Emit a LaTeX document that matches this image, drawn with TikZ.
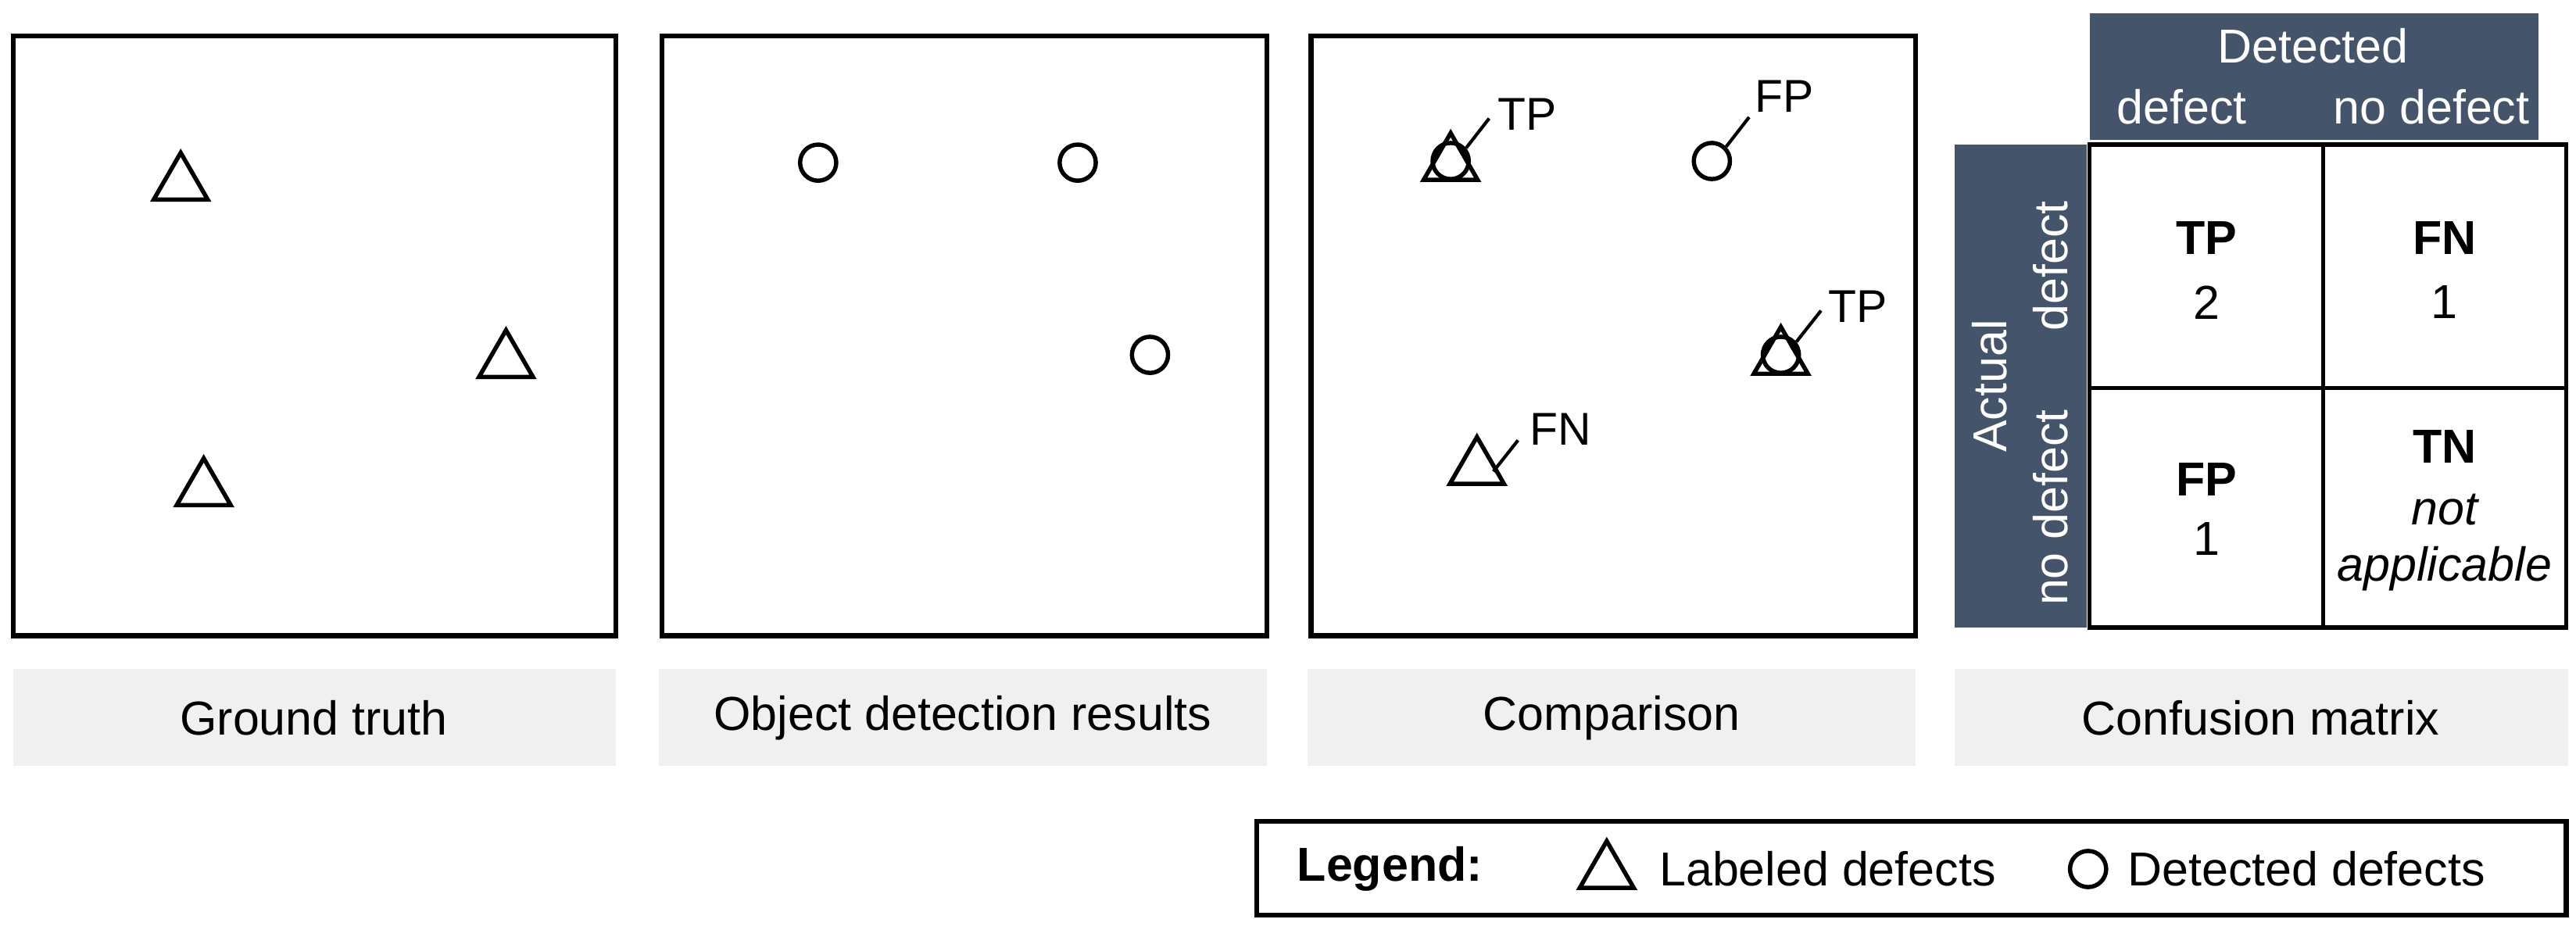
\documentclass[tikz,border=0pt]{standalone}
\usepackage{fontspec}
\setmainfont{Liberation Sans}
\usetikzlibrary{shapes.geometric,calc}
\definecolor{headc}{HTML}{44546A}
\begin{document}
\begin{tikzpicture}[x=0.5pt,y=-0.5pt,
  panel/.style={draw,line width=1.5pt},
  capbar/.style={fill=black!6,draw=none},
  capt/.style={font=\fontsize{14.5}{17}\selectfont},
  tri/.style={draw,line width=1.3pt,regular polygon,regular polygon sides=3,minimum size=19pt,inner sep=0pt},
  circ/.style={draw,line width=1.3pt,circle,minimum size=11pt,inner sep=0pt},
  lbl/.style={font=\fontsize{14}{16}\selectfont,anchor=base west,inner sep=1pt},
  lead/.style={line width=1pt},
  hdr/.style={fill=headc,draw=none},
  ht/.style={text=white,font=\fontsize{14.5}{17}\selectfont},
  ct/.style={font=\fontsize{14.5}{17}\selectfont},
  cell/.style={draw,line width=1.2pt,fill=white}]
\useasboundingbox (0,0) rectangle (1568,570);
% panels
\draw[panel] (8,22) rectangle (375,387);
\draw[panel] (403,22) rectangle (771,387);
\draw[panel] (798,22) rectangle (1166,387);
% captions
\fill[capbar] (8,407) rectangle (375,466);
\fill[capbar] (401,407) rectangle (771,466);
\fill[capbar] (796,407) rectangle (1166,466);
\fill[capbar] (1190,407) rectangle (1563,466);
\node[capt] (c1) at (191,437) {Ground truth};
\node[capt] (c2) at (586,437) {Object detection results};
\node[capt] (c3) at (981,437) {Comparison};
\node[capt] (c4) at (1376,437) {Confusion matrix};
% panel 1
\node[tri] (t1) at (110,112) {};
\node[tri] (t2) at (308,220) {};
\node[tri] (t3) at (124,298) {};
% panel 2
\node[circ] (o1) at (498,99) {};
\node[circ] (o2) at (656,99) {};
\node[circ] (o3) at (700,216) {};
% panel 3
\node[tri] (ta) at (883,100) {};
\node[circ] (ca) at (883,98) {};
\draw[lead] (ca.40) -- ++(14,-18) coordinate (ea);
\node[lbl] (la) at ($(ea)+(3,7)$) {TP};
\node[circ] (cb) at (1042,98) {};
\draw[lead] (cb.45) -- ++(14,-18) coordinate (eb);
\node[lbl] (lb) at ($(eb)+(1,-3)$) {FP};
\node[tri] (td) at (899,285) {};
\draw[lead] ($(td.center)+(10,2)$) -- ++(15,-19) coordinate (ed);
\node[lbl] (ld) at ($(ed)+(5,3)$) {FN};
\node[tri] (tc) at (1084,218) {};
\node[circ] (cc) at (1084,216) {};
\draw[lead] (cc.40) -- ++(15,-19) coordinate (ec);
\node[lbl] (lc) at ($(ec)+(2,7)$) {TP};
% matrix headers
\fill[hdr] (1272,8) rectangle (1545,85);
\fill[hdr] (1190,88) rectangle (1270,382);
\node[ht] (hd) at (1408,28) {Detected};
\node[ht] (hd1) at (1328,65) {defect};
\node[ht] (hd2) at (1480,65) {no defect};
\node[ht,rotate=90] (ha) at (1211,235) {Actual};
\node[ht,rotate=90] (ha1) at (1248,162) {defect};
\node[ht,rotate=90] (ha2) at (1248,309) {no defect};
% cells
\draw[cell] (1272,88) rectangle (1414,236);
\draw[cell] (1414,88) rectangle (1562,236);
\draw[cell] (1272,236) rectangle (1414,382);
\draw[cell] (1414,236) rectangle (1562,382);
\node[ct] (m1) at (1343,145) {\bfseries TP};
\node[ct] (m1v) at (1343,184) {2};
\node[ct] (m2) at (1488,145) {\bfseries FN};
\node[ct] (m2v) at (1488,184) {1};
\node[ct] (m3) at (1343,292) {\bfseries FP};
\node[ct] (m3v) at (1343,328) {1};
\node[ct] (m4) at (1488,272) {\bfseries TN};
\node[ct] (m4a) at (1488,310) {\itshape not};
\node[ct] (m4b) at (1488,346) {\itshape applicable};
% legend
\draw[panel] (765,500) rectangle (1562,557);
\node[ct] (lg) at (846,529) {\bfseries Legend:};
\node[tri] (lt) at (978,531) {};
\node[ct,anchor=west] (ltx) at (1003,529) {Labeled defects};
\node[circ] (lc2) at (1271,529) {};
\node[ct,anchor=west] (lcx) at (1288,529) {Detected defects};
\end{tikzpicture}
\end{document}
